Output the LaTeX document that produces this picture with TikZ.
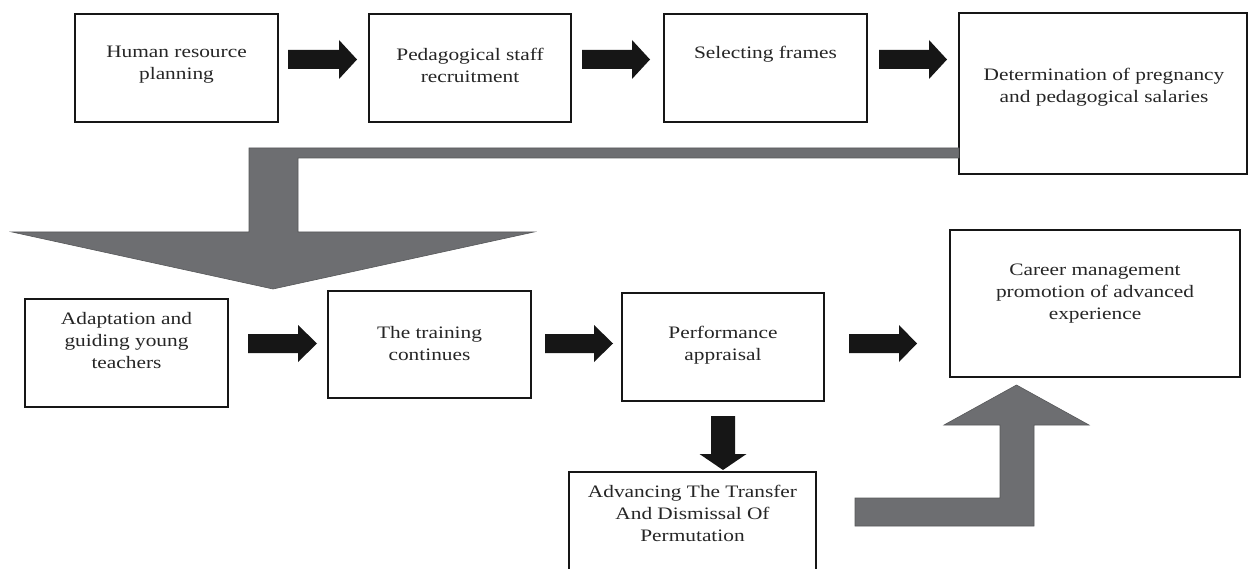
\documentclass[tikz,border=0pt]{standalone}
\usepackage{fontspec}
\setmainfont[FakeStretch=1.22]{Liberation Serif}
\usetikzlibrary{calc}
\definecolor{blk}{HTML}{161616}
\definecolor{gry}{HTML}{6D6E71}
\newcommand{\rarrow}[6]{% x1 x2 yc shafthalf headhalf headlen
  \fill[blk] (#1,#3-#4) -- (#2-#6,#3-#4) -- (#2-#6,#3-#5) -- (#2,#3) -- (#2-#6,#3+#5) -- (#2-#6,#3+#4) -- (#1,#3+#4) -- cycle;}
\tikzset{
  box/.style={draw=blk, line width=2.6pt, rectangle, inner sep=0pt, outer sep=0pt, anchor=north west, fill=white},
  txt/.style={align=center, inner sep=0pt, font=\fontsize{17.5pt}{22pt}\selectfont, text=black!85},
  grayarrow/.style={fill=gry, draw=gry!80!black, line width=0.6pt}
}
\begin{document}
\begin{tikzpicture}[x=1pt, y=-1pt]
\useasboundingbox[fill=white] (0,0) rectangle (1250,569);
% row 1 boxes
\node[box, minimum width=203pt, minimum height=108pt] (b1) at (75,14) {};
\node[box, minimum width=202pt, minimum height=108pt] (b2) at (369,14) {};
\node[box, minimum width=203pt, minimum height=108pt] (b3) at (664,14) {};
\node[box, minimum width=288pt, minimum height=161pt] (b4) at (959,13) {};
% row 2 boxes
\node[box, minimum width=203pt, minimum height=108pt] (b5) at (25,299) {};
\node[box, minimum width=203pt, minimum height=107pt] (b6) at (328,291) {};
\node[box, minimum width=202pt, minimum height=108pt] (b7) at (622,293) {};
\node[box, minimum width=290pt, minimum height=147pt] (b8) at (950,230) {};
\node[box, draw=none, fill=none, minimum width=247pt, minimum height=97pt] (b9) at (569,472) {};
\draw[blk, line width=2.6pt] (b9.south west) -- (b9.north west) -- (b9.north east) -- (b9.south east);
% texts
\node[txt] (t1) at (176.5,65) {Human resource\\planning};
\node[txt] (t2) at (470,65) {Pedagogical staff\\recruitment};
\node[txt] (t3) at (765.5,54) {Selecting frames};
\node[txt] (t4) at (1104,87) {Determination of pregnancy\\and pedagogical salaries};
\node[txt] (t5) at (126.5,341) {Adaptation and\\guiding young\\teachers};
\node[txt] (t6) at (429.5,344) {The training\\continues};
\node[txt] (t7) at (723,345) {Performance\\appraisal};
\node[txt] (t8) at (1095,294) {Career management\\promotion of advanced\\experience};
\node[txt] (t9) at (692.5,513) {Advancing The Transfer\\And Dismissal Of\\Permutation};
% row 1 black arrows
\rarrow{288}{357}{59.5}{9.5}{19.5}{18}
\rarrow{582}{650}{59.5}{9.5}{19.5}{18}
\rarrow{879}{947}{59.5}{9.5}{19.5}{18}
% row 2 black arrows
\rarrow{248}{317}{343.5}{9.5}{18.5}{19}
\rarrow{545}{613}{343.5}{9.5}{18.5}{19}
\rarrow{849}{917}{343.5}{9.5}{18.5}{18}
% down arrow
\fill[blk] (711,416) -- (735,416) -- (735,454) -- (746.5,454) -- (723,470) -- (699.5,454) -- (711,454) -- cycle;
% big gray arrow from b4 to row 2
\path[grayarrow] (b4.west |- 0,148) -- (249,148) -- (249,232) -- (12,232) -- (273,289) -- (534,232) -- (298,232) -- (298,158) -- (b4.west |- 0,158) -- cycle;
% gray up arrow to b8
\path[grayarrow] (855,498) -- (1000,498) -- (1000,425) -- (944,425) -- (1016.5,385) -- (1089,425) -- (1034,425) -- (1034,526) -- (855,526) -- cycle;
\end{tikzpicture}
\end{document}
